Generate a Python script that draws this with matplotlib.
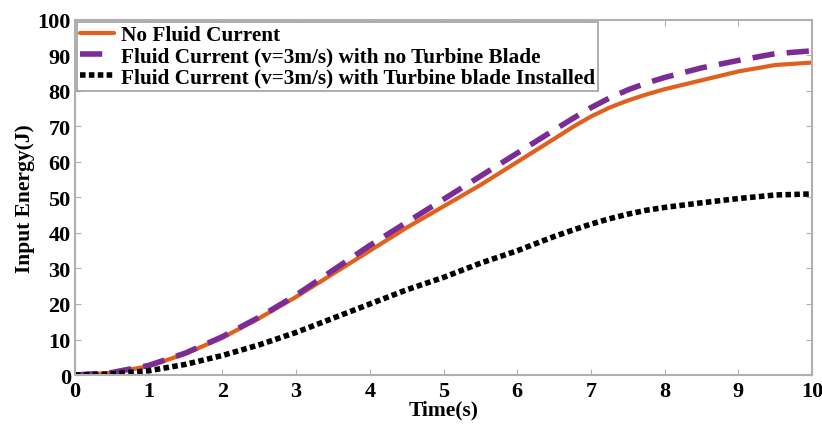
import matplotlib
matplotlib.use("Agg")
import matplotlib.pyplot as plt

time_s = [0, 0.5, 1, 1.5, 2, 2.5, 3, 3.5, 4, 4.5, 5, 5.5, 6, 6.5, 6.75, 7, 7.25, 7.5, 7.75, 8, 8.5, 9, 9.5, 10]
no_fluid = [0, 0.6, 2.5, 6, 10.5, 16, 22, 28.5, 35, 41.5, 47.5, 53.5, 60, 66.5, 69.8, 72.8, 75.3, 77.3, 79, 80.5, 83, 85.5, 87.3, 88]
fluid_no_blade = [0, 0.7, 2.7, 6.2, 10.8, 16.3, 22.5, 29.5, 36.5, 43, 49.5, 56, 62.5, 69, 72.2, 75.3, 78, 80.3, 82.2, 83.8, 86.5, 88.6, 90.5, 91.3]
fluid_blade = [0, 0.3, 1.2, 3, 5.5, 8.5, 12, 16, 20, 24, 27.5, 31.5, 35, 39, 40.8, 42.5, 44, 45.3, 46.4, 47.2, 48.5, 49.7, 50.7, 51]
labels = ["No Fluid Current",
          "Fluid Current (v=3m/s) with no Turbine Blade",
          "Fluid Current (v=3m/s) with Turbine blade Installed"]
xticks = list(range(0, 11))
yticks = list(range(0, 101, 10))

plt.rcParams['font.family'] = ['Liberation Serif', 'DejaVu Serif']
plt.rcParams['font.weight'] = 'bold'

fig = plt.figure(figsize=(8.22, 4.27), dpi=100)
ax = fig.add_axes([0.0912, 0.1194, 0.8968, 0.8316])

ax.plot(time_s, no_fluid, color='#e0601e', lw=3, solid_capstyle='round', label=labels[0])
ax.plot(time_s, fluid_no_blade, color='#7b2d95', lw=4, dashes=(4, 2.2), label=labels[1])
ax.plot(time_s, fluid_blade, color='black', lw=4, dashes=(1, 0.6), label=labels[2])

ax.set_xlim(0, 10)
ax.set_ylim(0, 100)
ax.set_xticks(xticks)
ax.set_yticks(yticks)
for s in ax.spines.values():
    s.set_color('#b0b0b0')
    s.set_linewidth(1.5)
ax.tick_params(direction='in', length=4, color='#b0b0b0', top=True, right=True,
               labelsize=16)
ax.tick_params(axis='x', pad=4)
ax.tick_params(axis='y', pad=3)
for lab in ax.get_xticklabels() + ax.get_yticklabels():
    lab.set_fontweight('bold')
ax.set_xlabel('Time(s)', fontsize=15.5, fontweight='bold', labelpad=-1)
ax.set_ylabel('Input Energy(J)', fontsize=15.5, fontweight='bold', labelpad=2)

leg = ax.legend(loc='upper left', prop={'weight': 'bold', 'size': 15.3},
                handlelength=1.6, handletextpad=0.3, labelspacing=0.05,
                borderpad=0.15, borderaxespad=0.1, fancybox=False, framealpha=1)
leg.get_frame().set_edgecolor('#a0a0a0')
leg.get_frame().set_linewidth(1.2)

fig.savefig('out.png', dpi=100)
